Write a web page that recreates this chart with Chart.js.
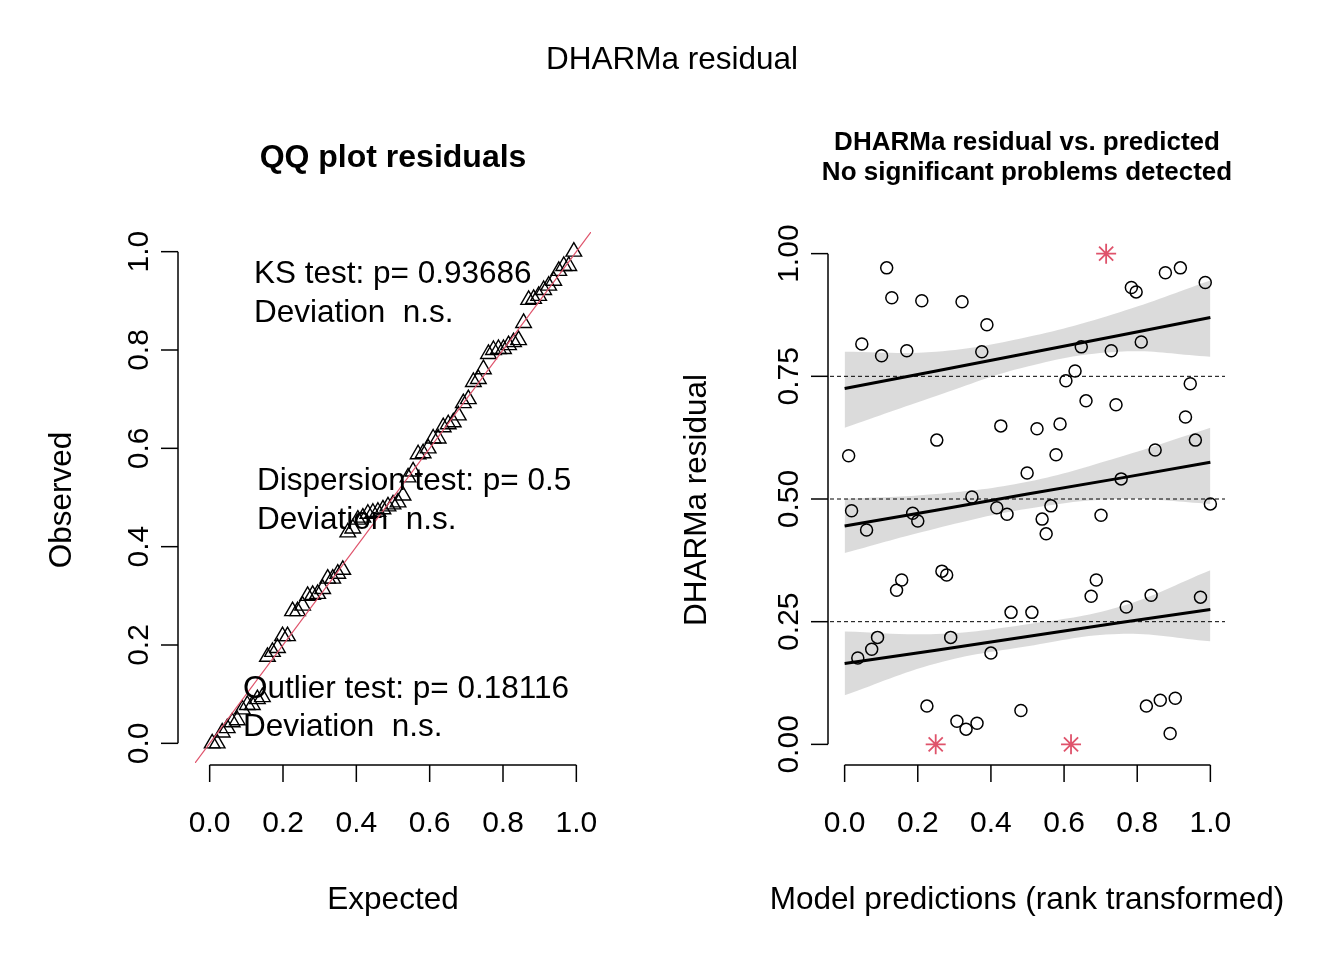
<!DOCTYPE html>
<html><head><meta charset="utf-8">
<script src="https://cdn.jsdelivr.net/npm/chart.js@4"></script>
<style>
body{margin:0;background:#fff;width:1344px;height:960px;overflow:hidden}
canvas{position:absolute;left:0;top:0}
</style></head><body>
<canvas id="qq" width="1344" height="960"></canvas>
<canvas id="res" width="1344" height="960"></canvas>
<script>
// residuals
const predX = [0.011,0.019,0.036,0.047,0.060,0.074,0.090,0.101,0.115,0.129,0.142,0.156,0.170,0.186,0.200,0.211,0.225,0.252,0.266,0.279,0.290,0.307,0.321,0.332,0.348,0.362,0.375,0.389,0.400,0.416,0.427,0.444,0.455,0.482,0.499,0.512,0.526,0.540,0.551,0.564,0.578,0.589,0.605,0.630,0.647,0.660,0.674,0.688,0.701,0.729,0.742,0.756,0.770,0.784,0.797,0.811,0.825,0.838,0.849,0.863,0.877,0.890,0.904,0.918,0.932,0.945,0.959,0.973,0.986,1.0];
const residY = [0.588,0.476,0.176,0.816,0.437,0.194,0.218,0.792,0.971,0.910,0.314,0.335,0.802,0.471,0.455,0.904,0.078,0.620,0.353,0.345,0.218,0.047,0.902,0.031,0.504,0.043,0.800,0.855,0.186,0.482,0.649,0.469,0.269,0.069,0.553,0.269,0.643,0.459,0.429,0.486,0.590,0.653,0.741,0.761,0.810,0.700,0.302,0.335,0.467,0.802,0.692,0.541,0.280,0.931,0.922,0.820,0.078,0.304,0.600,0.090,0.961,0.022,0.094,0.971,0.667,0.735,0.620,0.300,0.941,0.490];
const outX = [0.249,0.619,0.715];
const outY = [0.0,0.0,1.0];
// quantile regression lines and bands
const qX = [0,0.25,0.5,0.75,1];
const q25 = [0.165,0.192,0.22,0.248,0.275];
const q25lo = [0.10,0.165,0.20,0.225,0.21];
const q25hi = [0.23,0.225,0.245,0.28,0.355];
const q50 = [0.445,0.477,0.51,0.542,0.575];
const q50lo = [0.39,0.44,0.48,0.50,0.49];
const q50hi = [0.50,0.51,0.535,0.585,0.645];
const q75 = [0.725,0.761,0.797,0.833,0.87];
const q75lo = [0.645,0.71,0.77,0.80,0.79];
const q75hi = [0.80,0.80,0.83,0.88,0.945];
const ticks = [0,0.2,0.4,0.6,0.8,1.0];
const yTicksRes = [0,0.25,0.5,0.75,1.0];

const F = '"Liberation Sans", Arial, sans-serif';
const allRes = residY.concat(outY).slice().sort((a,b)=>a-b);
const qqPts = allRes.map((v,i)=>({x:(i+0.5)/allRes.length, y:v}));
const pts = (xs,ys)=>xs.map((x,i)=>({x:x,y:ys[i]}));

function rAxes(o){
  return {id:'rax', afterDraw(c){
    const g=c.ctx, xs=c.scales.x, ys=c.scales.y;
    g.save(); g.strokeStyle='#000'; g.fillStyle='#000'; g.lineWidth=1.5;
    const yb=o.xAxisY, xl=o.yAxisX;
    g.beginPath(); g.moveTo(xs.getPixelForValue(0),yb); g.lineTo(xs.getPixelForValue(1),yb); g.stroke();
    g.font='30px '+F; g.textAlign='center'; g.textBaseline='middle';
    ticks.forEach(t=>{const p=xs.getPixelForValue(t); g.beginPath(); g.moveTo(p,yb); g.lineTo(p,yb+17); g.stroke(); g.fillText(t.toFixed(1),p,824);});
    g.beginPath(); g.moveTo(xl,ys.getPixelForValue(0)); g.lineTo(xl,ys.getPixelForValue(1)); g.stroke();
    o.yt.forEach(t=>{const p=ys.getPixelForValue(t); g.beginPath(); g.moveTo(xl,p); g.lineTo(xl-17,p); g.stroke();
      g.save(); g.translate(xl-38,p); g.rotate(-Math.PI/2); g.fillText(t.toFixed(o.dec),0,0); g.restore();});
    g.font='31.5px '+F;
    g.fillText(o.xlab,o.cx,900);
    g.save(); g.translate(o.ylabX,500); g.rotate(-Math.PI/2); g.fillText(o.ylab,0,0); g.restore();
    if(o.extra) o.extra(g);
    g.restore();
  }};
}
const baseOpts = (pad)=>({responsive:false,animation:false,layout:{padding:pad},
  plugins:{legend:{display:false},tooltip:{enabled:false}},
  scales:{x:{type:'linear',min:-0.04,max:1.04,display:false},y:{type:'linear',min:-0.04,max:1.04,display:false}}});

new Chart(document.getElementById('qq'),{type:'scatter',
  data:{datasets:[
    {type:'line',data:[{x:-0.04,y:-0.04},{x:1.04,y:1.04}],borderColor:'#DF536B',borderWidth:1.2,pointRadius:0,order:0},
    {data:qqPts,pointStyle:'triangle',radius:9,borderColor:'#000',backgroundColor:'rgba(0,0,0,0)',borderWidth:1.4,order:1}
  ]},
  options:baseOpts({left:195,right:753,top:232,bottom:197}),
  plugins:[rAxes({xAxisY:765,yAxisX:178,yt:ticks,dec:1,xlab:'Expected',ylab:'Observed',cx:393,ylabX:62,
    extra(g){
      g.font='31.5px '+F; g.textAlign='center'; g.fillText('DHARMa residual',672,60);
      g.font='bold 32px '+F; g.fillText('QQ plot residuals',393,158);
      g.font='31.5px '+F; g.textAlign='left';
      [['KS test: p= 0.93686',254,274],['Deviation  n.s.',254,313],['Dispersion test: p= 0.5',257,481],['Deviation  n.s.',257,520],['Outlier test: p= 0.18116',243,689],['Deviation  n.s.',243,727]].forEach(t=>g.fillText(t[0],t[1],t[2]));
    }})]
});

const band=(lo,hi)=>[
  {type:'line',data:pts(qX,lo),borderWidth:0,pointRadius:0,tension:0.4,fill:false,order:5},
  {type:'line',data:pts(qX,hi),borderWidth:0,pointRadius:0,tension:0.4,fill:'-1',backgroundColor:'rgba(190,190,190,0.55)',order:5}];
const qline=(v)=>({type:'line',data:pts(qX,v),borderColor:'#000',borderWidth:3,pointRadius:0,order:2});
const hline=(v)=>({type:'line',data:[{x:-0.04,y:v},{x:1.04,y:v}],borderColor:'#000',borderWidth:1,borderDash:[4,3],pointRadius:0,order:3});

new Chart(document.getElementById('res'),{type:'scatter',
  data:{datasets:[].concat(band(q25lo,q25hi),band(q50lo,q50hi),band(q75lo,q75hi),
    [hline(0.25),hline(0.5),hline(0.75),qline(q25),qline(q50),qline(q75),
    {data:pts(predX,residY),pointStyle:'circle',radius:6,borderColor:'#000',backgroundColor:'rgba(0,0,0,0)',borderWidth:1.5,order:1},
    {data:pts(outX,outY),pointStyle:'star',radius:10,borderColor:'#DF536B',borderWidth:1.8,order:0}])},
  options:baseOpts({left:830,right:119,top:234,bottom:196}),
  plugins:[rAxes({xAxisY:765,yAxisX:828,yt:yTicksRes,dec:2,xlab:'Model predictions (rank transformed)',ylab:'DHARMa residual',cx:1027,ylabX:697,
    extra(g){
      g.font='bold 26px '+F; g.textAlign='center';
      g.fillText('DHARMa residual vs. predicted',1027,143);
      g.fillText('No significant problems detected',1027,173);
    }})]
});
</script></body></html>
